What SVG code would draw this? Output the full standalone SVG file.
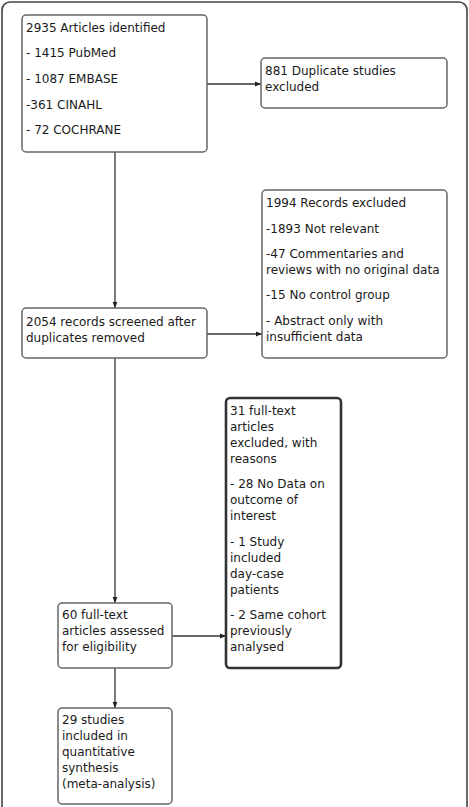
<svg xmlns="http://www.w3.org/2000/svg" width="469" height="807" viewBox="0 0 469 807">
<style>
.frame{fill:#fff;stroke:#444;stroke-width:1.6}
.box{fill:#fff;stroke:#666;stroke-width:1.5}
.thick{fill:#fff;stroke:#333;stroke-width:2.6}
.t{font-family:"DejaVu Sans",sans-serif;font-size:12px;fill:#1a1a1a}
.c{fill:none;stroke:#333;stroke-width:1.3}
</style>
<defs>
<marker id="ah" viewBox="0 0 10 10" refX="10" refY="5" markerWidth="7" markerHeight="6" markerUnits="userSpaceOnUse" orient="auto">
<path d="M0,1 L10,5 L0,9 Z" fill="#222"/>
</marker>
</defs>
<rect class="frame" x="2" y="2" width="465" height="820" rx="8"/>
<g id="connectors">
<path class="c" d="M207,84 H261" marker-end="url(#ah)"/>
<path class="c" d="M115,152 V308" marker-end="url(#ah)"/>
<path class="c" d="M207,334 H262" marker-end="url(#ah)"/>
<path class="c" d="M115,358 V603" marker-end="url(#ah)"/>
<path class="c" d="M172,636 H226" marker-end="url(#ah)"/>
<path class="c" d="M115,668 V708" marker-end="url(#ah)"/>
</g>
<g id="identified">
<rect class="box" x="22" y="15" width="185" height="137" rx="4"/>
<text class="t" x="26" y="32">2935 Articles identified</text>
<text class="t" x="26" y="57">- 1415 PubMed</text>
<text class="t" x="26" y="83">- 1087 EMBASE</text>
<text class="t" x="26" y="109">-361 CINAHL</text>
<text class="t" x="26" y="134">- 72 COCHRANE</text>
</g>
<g id="duplicates">
<rect class="box" x="261" y="58" width="186" height="50" rx="4"/>
<text class="t" x="265" y="75">881 Duplicate studies</text>
<text class="t" x="265" y="91">excluded</text>
</g>
<g id="screened">
<rect class="box" x="22" y="308" width="185" height="50" rx="4"/>
<text class="t" x="26" y="326">2054 records screened after</text>
<text class="t" x="26" y="342">duplicates removed</text>
</g>
<g id="records-excluded">
<rect class="box" x="262" y="190" width="185" height="168" rx="4"/>
<text class="t" x="266" y="207">1994 Records excluded</text>
<text class="t" x="266" y="233">-1893 Not relevant</text>
<text class="t" x="266" y="258">-47 Commentaries and</text>
<text class="t" x="266" y="274">reviews with no original data</text>
<text class="t" x="266" y="299">-15 No control group</text>
<text class="t" x="266" y="325">- Abstract only with</text>
<text class="t" x="266" y="341">insufficient data</text>
</g>
<g id="fulltext-excluded">
<rect class="thick" x="226" y="398" width="115" height="270" rx="4"/>
<text class="t" x="230" y="415">31 full-text</text>
<text class="t" x="230" y="431">articles</text>
<text class="t" x="230" y="447">excluded, with</text>
<text class="t" x="230" y="463">reasons</text>
<text class="t" x="230" y="488">- 28 No Data on</text>
<text class="t" x="230" y="504">outcome of</text>
<text class="t" x="230" y="520">interest</text>
<text class="t" x="230" y="546">- 1 Study</text>
<text class="t" x="230" y="562">included</text>
<text class="t" x="230" y="578">day-case</text>
<text class="t" x="230" y="594">patients</text>
<text class="t" x="230" y="619">- 2 Same cohort</text>
<text class="t" x="230" y="635">previously</text>
<text class="t" x="230" y="651">analysed</text>
</g>
<g id="assessed">
<rect class="box" x="58" y="603" width="114" height="65" rx="4"/>
<text class="t" x="62" y="619">60 full-text</text>
<text class="t" x="62" y="635">articles assessed</text>
<text class="t" x="62" y="651">for eligibility</text>
</g>
<g id="included">
<rect class="box" x="58" y="708" width="114" height="96" rx="4"/>
<text class="t" x="62" y="724">29 studies</text>
<text class="t" x="62" y="740">included in</text>
<text class="t" x="62" y="756">quantitative</text>
<text class="t" x="62" y="772">synthesis</text>
<text class="t" x="62" y="788">(meta-analysis)</text>
</g>
</svg>
